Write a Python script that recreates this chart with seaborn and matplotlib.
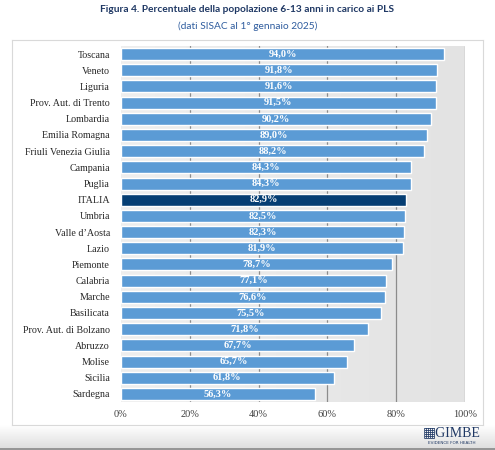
import numpy as np
import pandas as pd
import matplotlib
matplotlib.use("Agg")
import matplotlib.pyplot as plt
import seaborn as sns

regions = ["Toscana", "Veneto", "Liguria", "Prov. Aut. di Trento", "Lombardia",
           "Emilia Romagna", "Friuli Venezia Giulia", "Campania", "Puglia", "ITALIA",
           "Umbria", "Valle d\u2019Aosta", "Lazio", "Piemonte", "Calabria", "Marche",
           "Basilicata", "Prov. Aut. di Bolzano", "Abruzzo", "Molise", "Sicilia", "Sardegna"]
values = [94.0, 91.8, 91.6, 91.5, 90.2, 89.0, 88.2, 84.3, 84.3, 82.9,
          82.5, 82.3, 81.9, 78.7, 77.1, 76.6, 75.5, 71.8, 67.7, 65.7, 61.8, 56.3]
xticks = [0, 20, 40, 60, 80, 100]
xticklabels = ["0%", "20%", "40%", "60%", "80%", "100%"]

title = "Figura 4. Percentuale della popolazione 6-13 anni in carico ai PLS"
subtitle = "(dati SISAC al 1\u00b0 gennaio 2025)"

df = pd.DataFrame({"region": regions, "value": values})
light = "#5b9bd5"
dark = "#063e73"
palette = [dark if r == "ITALIA" else light for r in regions]

sns.set_theme(style="white")
serif = ["Liberation Serif", "DejaVu Serif"]
sans = ["Lato", "DejaVu Sans"]

fig = plt.figure(figsize=(4.95, 4.5), dpi=100)
fig.patch.set_facecolor("white")

# bottom page band
band = fig.add_axes([0, 0, 1, 25 / 450])
grad = np.linspace(1.0, 0.0, 50).reshape(-1, 1)
band.imshow(grad, aspect="auto", cmap=matplotlib.colors.LinearSegmentedColormap.from_list(
    "g", ["#dcdcdc", "#ffffff"]), extent=[0, 1, 0, 1])
band.axhline(0.04, color="#888888", lw=1.2)
band.set_axis_off()

# chart frame
frame = fig.add_axes([12 / 495, 1 - 425 / 450, 471 / 495, 385 / 450])
frame.set_xticks([])
frame.set_yticks([])
frame.set_facecolor("white")
for s in frame.spines.values():
    s.set_color("#d9d9d9")
    s.set_linewidth(0.8)

ax = fig.add_axes([121 / 495, 1 - 402 / 450, 344 / 495, 356 / 450])
ax.set_zorder(2)
sns.barplot(data=df, x="value", y="region", hue="region", palette=palette,
            legend=False, width=0.74, saturation=1, ax=ax, zorder=3)

# background gradient
bg = np.linspace(0, 1, 100).reshape(1, -1)
ax.imshow(bg, aspect="auto", cmap=matplotlib.colors.LinearSegmentedColormap.from_list(
    "b", ["#eeeeee", "#e3e3e3"]), extent=[0, 100, len(regions) - 0.5, -0.5], zorder=0)
ax.set_xlim(0, 100)
ax.set_ylim(len(regions) - 0.5, -0.5)
for t in xticks[1:]:
    ax.axvline(t, color="#8c8c8c", lw=0.9, zorder=1)

for s in ax.spines.values():
    s.set_visible(False)
ax.set_xlabel("")
ax.set_ylabel("")
ax.set_xticks(xticks)
ax.set_xticklabels(xticklabels, fontsize=7.5, family=serif, color="#404040")
ax.tick_params(axis="x", length=0, pad=6)
ax.tick_params(axis="y", length=0, pad=8)
for lab in ax.get_yticklabels():
    lab.set_family(serif)
    lab.set_fontsize(7.2)
    lab.set_color("#262626")

for i, v in enumerate(values):
    ax.text(v / 2, i, f"{v:.1f}%".replace(".", ","), ha="center", va="center",
            color="white", fontsize=7.5, fontweight="bold", family=serif, zorder=5)

fig.text(0.5, 1 - 10 / 450, title, ha="center", va="center", fontsize=7.3,
         fontweight="bold", color="#1f3864", family=sans)
fig.text(0.5, 1 - 26 / 450, subtitle, ha="center", va="center", fontsize=7.3,
         color="#2e5c9e", family=sans)

# logo
fig.text(452 / 495, 1 - 433 / 450, "\u25a6GIMBE", ha="center", va="center", fontsize=10,
         color="#1f3864", family=serif)
fig.text(452 / 495, 1 - 443 / 450, "EVIDENCE FOR HEALTH", ha="center", va="center",
         fontsize=3, color="#1f3864", family=["DejaVu Sans"])

fig.savefig("out.png", dpi=100, facecolor="white")
